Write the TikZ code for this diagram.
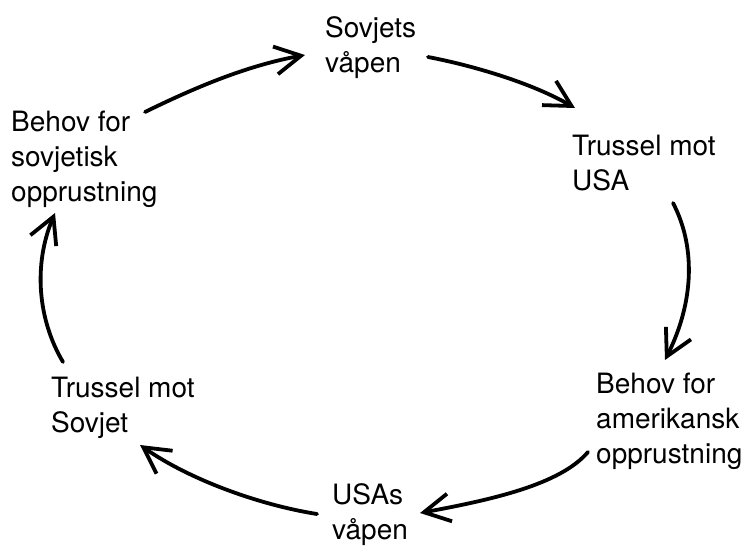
\documentclass[tikz,border=0pt]{standalone}
\usepackage{fontspec}
\setmainfont{TeX Gyre Heros}
\usetikzlibrary{arrows.meta}
\tikzset{
  label/.style={anchor=base west, inner sep=0pt, align=left,
    font=\fontsize{28}{35}\selectfont},
  cycle/.style={line width=3.8pt, line cap=round,
    -{Straight Barb[length=26pt,width=28pt,line width=3.8pt]}}
}
\begin{document}
\begin{tikzpicture}[x=1pt,y=-1pt]
\useasboundingbox (0,0) rectangle (746,546);
% labels (anchored at the baseline of their last line)
\node[label] (sv)  at (325,72)  {Sovjets\\våpen};
\node[label] (tu)  at (572,190) {Trussel mot\\USA};
\node[label] (ba)  at (596,463) {Behov for\\amerikansk\\opprustning};
\node[label] (uv)  at (332,539) {USAs\\våpen};
\node[label] (ts)  at (51,432)  {Trussel mot\\Sovjet};
\node[label] (bs)  at (11,201)  {Behov for\\sovjetisk\\opprustning};
% arrow end points
\coordinate (a1s) at (145,112); \coordinate (a1e) at (305,55);
\coordinate (a2s) at (428,57);  \coordinate (a2e) at (575,108);
\coordinate (a3s) at (673,203); \coordinate (a3e) at (665,360);
\coordinate (a4s) at (588,452); \coordinate (a4e) at (420,513);
\coordinate (a5s) at (317,514); \coordinate (a5e) at (140,445);
\coordinate (a6s) at (63,362);  \coordinate (a6e) at (55,213);
% the cycle
\draw[cycle] (a1s) .. controls (200,85) and (250,65) .. (a1e);
\draw[cycle] (a2s) .. controls (470,65) and (530,82) .. (a2e);
\draw[cycle] (a3s) .. controls (695,245) and (695,300) .. (a3e);
\draw[cycle] (a4s) .. controls (560,485) and (490,500) .. (a4e);
\draw[cycle] (a5s) .. controls (260,505) and (190,480) .. (a5e);
\draw[cycle] (a6s) .. controls (38,320) and (33,265) .. (a6e);
\end{tikzpicture}
\end{document}
